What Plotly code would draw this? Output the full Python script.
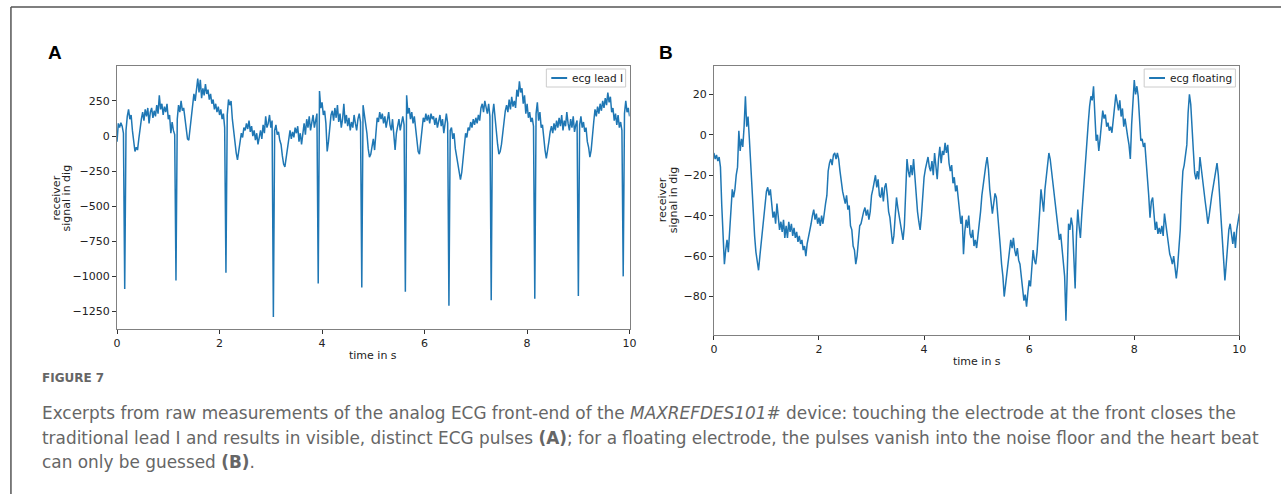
import numpy as np
import plotly.graph_objects as go

W, H = 1288, 494

# ---------------- data ----------------
time_s = np.linspace(0, 10, 401)

ecg_lead_I = [
    -40, 90, 60, 95, 70, 20, -1090, 40, 140, 190, 120, 150, 40, -60, -110, -80, -100, -20, 60, 120,
    170, 110, 190, 140, 200, 90, 170, 200, 130, 180, 140, 220, 160, 290, 190, 230, 150, 210, 170, 230,
    120, 150, 20, 100, 40, 10, -1030, 120, 220, 170, 250, 180, 200, 110, 20, -20, -30, 60, 140, 210,
    300, 250, 360, 410, 310, 400, 270, 340, 290, 370, 300, 330, 260, 300, 230, 260, 190, 230, 170, 210,
    150, 190, 120, 160, 60, -975, 150, 260, 220, 250, 120, 30, -60, -120, -170, -110, -60, 20, -10, 60,
    40, 90, 50, 110, 30, 70, 0, 40, -30, 20, -60, 10, 40, -20, 80, 20, 140, 60, 90, 150,
    60, 110, -1290, 40, 80, 10, 30, -30, -60, -140, -200, -220, -150, -60, 0, 40, -20, 30, -10, 60,
    20, 70, -40, 20, -60, 30, 90, 10, 120, 60, 140, 40, 110, 150, 60, 100, 160, -1050, 320, 200,
    240, 150, 180, 90, -110, -40, 60, 150, 180, 110, 200, 130, 220, 100, 160, 60, 120, 230, 90, 150,
    70, 130, 40, 100, 60, 150, 90, 40, 120, 160, 100, -1080, 220, 160, 110, 20, -90, -150, -130, -60,
    -20, -100, 60, 130, 100, 170, 120, 160, 90, 140, 60, 130, 170, 80, 40, 120, -20, -100, 20, 60,
    120, 40, 90, 140, 80, -1110, 290, 160, 200, 120, 170, 90, 140, 50, -20, -110, -130, -50, 60, 130,
    100, 160, 110, 150, 90, 160, 120, 140, 80, 130, 60, 110, 150, 70, 120, 20, 90, 160, 90, -1210,
    40, 60, -20, 20, -90, -150, -200, -260, -310, -260, -180, -80, 20, -10, 60, 40, 100, 60, 120, 80,
    130, 90, 150, 110, 200, 230, 170, 250, 190, 160, 230, 140, -1170, 150, 230, 120, 40, -60, -130, -110,
    -60, 20, 120, 180, 220, 170, 260, 190, 280, 210, 250, 200, 330, 280, 390, 310, 340, 230, 290, 160,
    230, 130, 170, 100, 130, 70, -1160, 160, 240, 110, 170, 60, 80, -30, -100, -160, -110, -40, 30, 70,
    20, 90, 40, 110, 60, 130, 70, 150, 40, 110, 70, 170, 90, 40, 120, 60, 140, 30, 80, 110,
    -1140, 80, 140, 60, 100, 30, 60, -40, -80, -150, -100, -20, 100, 190, 140, 210, 160, 230, 180, 250,
    200, 270, 220, 310, 240, 280, 170, 200, 110, 160, 80, 150, 60, 100, 40, -1000, 160, 250, 170, 200,
    140,
]

ecg_floating = [
    -9, -12, -10, -13, -11, -16, -35, -52, -64, -57, -52, -58, -48, -33, -27, -31, -27, -20, -16, 2,
    -8, -2, -6, 4, 19, 4, 9, -2, -14, -30, -44, -50, -58, -62, -67, -60, -54, -46, -40, -37,
    -28, -26, -30, -27, -35, -41, -38, -44, -34, -40, -47, -43, -48, -42, -51, -45, -51, -43, -48, -44,
    -50, -46, -51, -48, -53, -50, -54, -52, -57, -55, -60, -54, -51, -47, -44, -40, -37, -42, -39, -44,
    -41, -45, -40, -44, -37, -34, -30, -18, -14, -12, -15, -10, -9, -12, -9, -12, -18, -24, -28, -31,
    -34, -30, -37, -35, -45, -47, -55, -57, -64, -60, -52, -45, -44, -40, -38, -36, -40, -37, -42, -38,
    -30, -27, -24, -20, -26, -22, -30, -31, -26, -33, -26, -24, -30, -38, -41, -47, -54, -50, -40, -31,
    -36, -40, -45, -50, -52, -45, -30, -12, -18, -21, -15, -20, -12, -22, -31, -38, -43, -47, -40, -30,
    -21, -17, -14, -11, -16, -18, -13, -20, -9, -15, -22, -12, -6, -14, -8, -10, -4, -9, -5, -14,
    -18, -15, -24, -21, -28, -25, -31, -36, -44, -40, -59, -48, -42, -46, -40, -49, -51, -47, -55, -52,
    -56, -50, -45, -38, -30, -24, -21, -15, -11, -17, -27, -33, -39, -34, -29, -31, -38, -47, -55, -64,
    -70, -80, -74, -67, -63, -58, -52, -56, -51, -57, -60, -56, -62, -64, -70, -77, -82, -79, -85, -78,
    -72, -75, -66, -57, -62, -64, -58, -50, -38, -27, -32, -38, -27, -20, -13, -9, -12, -18, -24, -30,
    -37, -42, -47, -52, -49, -55, -62, -70, -92, -60, -44, -47, -41, -45, -60, -76, -50, -37, -45, -51,
    -40, -30, -21, -14, -4, 6, 14, 19, 17, 24, 10, -3, 0, -8, -2, 5, 12, 8, 10, 4,
    6, 2, 4, 1, 8, 14, 20, 16, 12, 17, 9, 13, 4, 8, 2, -1, -5, -12, 5, 18,
    27, 20, 24, 19, 8, -3, -2, -6, -4, -12, -22, -30, -41, -33, -31, -39, -47, -43, -49, -46,
    -49, -45, -50, -39, -44, -51, -55, -59, -61, -64, -60, -66, -71, -65, -55, -47, -30, -18, -15, -11,
    -5, 11, 20, 15, 6, -8, -19, -22, -18, -22, -11, -17, -24, -27, -33, -38, -44, -40, -34, -30,
    -26, -22, -18, -14, -20, -31, -40, -51, -62, -72, -64, -54, -47, -44, -49, -54, -48, -56, -47, -42,
    -39,
]

x_ticks = [0, 2, 4, 6, 8, 10]
a_ticks = [250, 0, -250, -500, -750, -1000, -1250]
b_ticks = [20, 0, -20, -40, -60, -80]
a_range = [-1375, 499]
b_range = [-99, 34]

legend_a = "ecg lead I"
legend_b = "ecg floating"
x_title = "time in s"
y_title_lines = ["receiver", "signal in dig"]

caption_head = "FIGURE 7"
caption_lines = [
    "Excerpts from raw measurements of the analog ECG front-end of the <i>MAXREFDES101#</i> device: touching the electrode at the front closes the",
    "traditional lead I and results in visible, distinct ECG pulses <b>(A)</b>; for a floating electrode, the pulses vanish into the noise floor and the heart beat",
    "can only be guessed <b>(B)</b>.",
]

# ---------------- layout helpers ----------------
def px(x):
    return x / W

def py(y):
    return 1 - y / H

LINE = "#1f77b4"
TXT = "#222222"
FONT = "DejaVu Sans"
CAP = "#666666"

fig = go.Figure()
fig.add_trace(go.Scatter(x=time_s, y=ecg_lead_I, mode="lines", name=legend_a,
                         line=dict(color=LINE, width=1.5), xaxis="x", yaxis="y", showlegend=False))
fig.add_trace(go.Scatter(x=time_s, y=ecg_floating, mode="lines", name=legend_b,
                         line=dict(color=LINE, width=1.5), xaxis="x2", yaxis="y2", showlegend=False))

axis_common = dict(showline=True, mirror=True, linecolor="#808080", linewidth=1,
                   ticks="outside", ticklen=4, tickcolor="#333333", tickwidth=1,
                   showgrid=False, zeroline=False,
                   tickfont=dict(family=FONT, size=11, color=TXT))

fig.update_layout(
    width=W, height=H, margin=dict(l=0, r=0, t=0, b=0),
    paper_bgcolor="white", plot_bgcolor="white",
    xaxis=dict(domain=[px(114), px(631)], range=[0, 10], tickvals=x_ticks, anchor="y", **axis_common),
    yaxis=dict(domain=[py(329), py(66)], range=a_range, tickvals=a_ticks, anchor="x", **axis_common),
    xaxis2=dict(domain=[px(716), px(1246)], range=[0, 10], tickvals=x_ticks, anchor="y2", **axis_common),
    yaxis2=dict(domain=[py(335), py(66)], range=b_range, tickvals=b_ticks, anchor="x2", **axis_common),
    showlegend=False,
)

ann = []
shapes = []

def text(t, x, y, size, family=FONT, color=TXT, xa="center", ya="middle", angle=0):
    ann.append(dict(text=t, x=px(x), y=py(y), xref="paper", yref="paper", showarrow=False,
                    xanchor=xa, yanchor=ya, textangle=angle, borderpad=0,
                    font=dict(family=family, size=size, color=color)))

# panel letters
text("<b>A</b>", 51, 52, 19, family="Liberation Sans", color="black")
text("<b>B</b>", 668, 52, 19, family="Liberation Sans", color="black")
# axis titles
text(x_title, 372, 355, 11)
text(x_title, 981, 361, 11)
for (x1, x2, yc) in [(52, 63, 198), (664, 675, 200)]:
    text(y_title_lines[0], x1, yc, 11, angle=-90)
    text(y_title_lines[1], x2, yc, 11, angle=-90)

# manual legends (matplotlib style)
for (x0, x1, label) in [(547, 627, legend_a), (1150, 1242, legend_b)]:
    shapes.append(dict(type="rect", xref="paper", yref="paper", x0=px(x0), x1=px(x1),
                       y0=py(87), y1=py(69), line=dict(color="#cccccc", width=1),
                       fillcolor="white", layer="above"))
    shapes.append(dict(type="line", xref="paper", yref="paper", x0=px(x0 + 5), x1=px(x0 + 21),
                       y0=py(78), y1=py(78), line=dict(color=LINE, width=2), layer="above"))
    text(label, x0 + 25, 78, 10.5, xa="left")

# caption
text("<b>" + caption_head + "</b>", 37, 378, 12, family=FONT, color=CAP, xa="left")
for i, line in enumerate(caption_lines):
    text(line, 37, 413 + 24.5 * i, 16.9, family=FONT, color=CAP, xa="left")

# frame lines of the figure box
shapes.append(dict(type="line", xref="paper", yref="paper", x0=px(7), x1=1, y0=py(7), y1=py(7),
                   line=dict(color="#555555", width=1.5)))
shapes.append(dict(type="line", xref="paper", yref="paper", x0=px(7), x1=px(7), y0=py(7), y1=0,
                   line=dict(color="#555555", width=1.5)))

fig.update_layout(annotations=ann, shapes=shapes)
fig.write_html("out.html")
